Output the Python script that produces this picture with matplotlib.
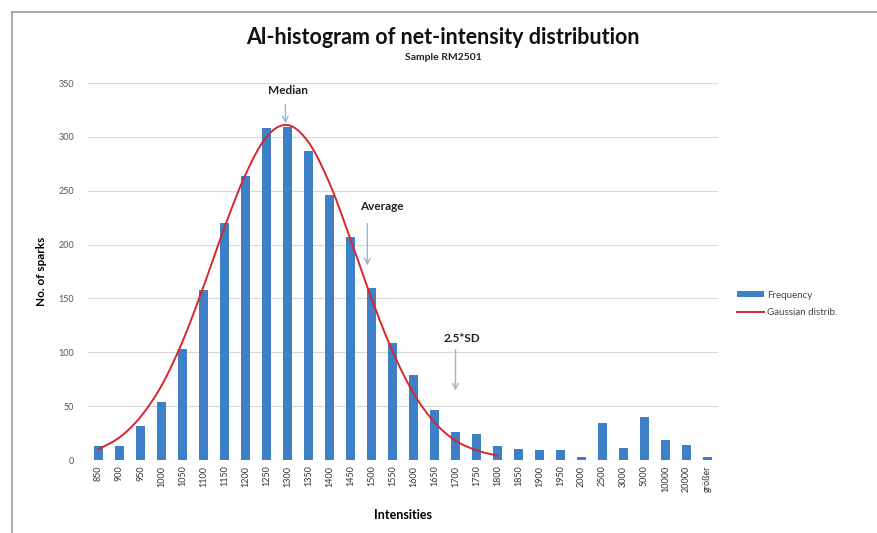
import matplotlib
matplotlib.use("Agg")
import matplotlib.pyplot as plt
import numpy as np

plt.rcParams['font.family'] = ['Lato', 'DejaVu Sans']

# histogram bins (upper limits) and spark counts
bins = ['850', '900', '950', '1000', '1050', '1100', '1150', '1200', '1250', '1300',
        '1350', '1400', '1450', '1500', '1550', '1600', '1650', '1700', '1750', '1800',
        '1850', '1900', '1950', '2000', '2500', '3000', '5000', '10000', '20000', 'größer']
frequency = [13, 13, 32, 54, 103, 158, 220, 264, 308, 309,
             287, 246, 207, 160, 109, 79, 46, 26, 24, 13,
             10, 9, 9, 3, 34, 11, 40, 19, 14, 3]

# fitted gaussian, evaluated for the bins 850..1800
gauss = [10, 21, 40, 69, 110, 161, 216, 265, 300, 311,
         295, 257, 205, 150, 101, 62, 35, 18, 9, 4]

# markers: (label, text x, text y, arrow x, arrow top, arrow tip) in bin/count units
marks = [('Median', 9.0, 343, 8.9, 333, 310),
         ('Average', 13.5, 235, 12.8, 222, 178),
         ('2.5*SD', 17.3, 113, 17.0, 105, 62)]


def smooth(y, n=12):
    # catmull-rom spline through the points, like a smoothed line in a spreadsheet
    y = np.asarray(y, float)
    p = np.concatenate([[2 * y[0] - y[1]], y, [2 * y[-1] - y[-2]]])
    xs, ys = [], []
    for i in range(len(y) - 1):
        t = np.linspace(0, 1, n, endpoint=False)
        p0, p1, p2, p3 = p[i], p[i + 1], p[i + 2], p[i + 3]
        seg = 0.5 * (2 * p1 + (-p0 + p2) * t + (2 * p0 - 5 * p1 + 4 * p2 - p3) * t ** 2
                     + (-p0 + 3 * p1 - 3 * p2 + p3) * t ** 3)
        xs.append(i + t)
        ys.append(seg)
    xs.append([len(y) - 1])
    ys.append([y[-1]])
    return np.concatenate(xs), np.concatenate(ys)


fig = plt.figure(figsize=(8.77, 5.33), dpi=100)
ax = fig.add_axes([88 / 877, 1 - 460 / 533, 630 / 877, 377 / 533])

x = np.arange(len(bins))
bars = ax.bar(x, frequency, width=0.45, color='#3D80C8', label='Frequency', zorder=2)
gx, gy = smooth(gauss)
line, = ax.plot(gx, gy, color='#D8262C', lw=1.4, label='Gaussian distrib.', zorder=3)

for label, tx, ty, ax_x, a0, a1 in marks:
    ax.text(tx, ty, label, ha='center', va='center', fontsize=8.5, fontweight='bold',
            color='#222222')
    ax.annotate('', xy=(ax_x, a1), xytext=(ax_x, a0),
                arrowprops=dict(arrowstyle='->', color='#9DB3CC', lw=1.0))

ax.set_xlim(-0.5, len(bins) - 0.5)
ax.set_ylim(0, 350)
ax.set_yticks(range(0, 351, 50))
ax.set_xticks(x)
ax.set_xticklabels(bins, rotation=90, fontsize=6.5, color='#333333')
ax.tick_params(axis='y', labelsize=6.5, labelcolor='#555555', length=0, pad=10)
ax.tick_params(axis='x', length=0, pad=4)
ax.grid(axis='y', color='#D9D9D9', lw=0.8, zorder=0)
for s in ax.spines.values():
    s.set_visible(False)

ax.set_xlabel('Intensities', fontsize=9, fontweight='bold', labelpad=12)
ax.set_ylabel('No. of sparks', fontsize=8.5, fontweight='bold', labelpad=8)

fig.text(443 / 877, 1 - 38 / 533, 'Al-histogram of net-intensity distribution',
         ha='center', va='center', fontsize=15.5, fontweight='bold', color='#111111')
fig.text(443 / 877, 1 - 58 / 533, 'Sample RM2501', ha='center', va='center',
         fontsize=7.5, fontweight='bold', color='#222222')

fig.legend([bars, line], ['Frequency', 'Gaussian distrib.'], loc='center left',
           bbox_to_anchor=(728 / 877, 1 - 304 / 533), frameon=False,
           fontsize=7, labelcolor='#444444', handlelength=2.8, handleheight=0.5,
           labelspacing=0.9, handletextpad=0.3)

# chart frame
fig.add_artist(plt.Line2D([12 / 877, 12 / 877], [0, 1 - 12 / 533], color='#999999', lw=1.2))
fig.add_artist(plt.Line2D([12 / 877, 1], [1 - 12 / 533, 1 - 12 / 533], color='#999999', lw=1.2))

fig.savefig('out.png', dpi=100)
